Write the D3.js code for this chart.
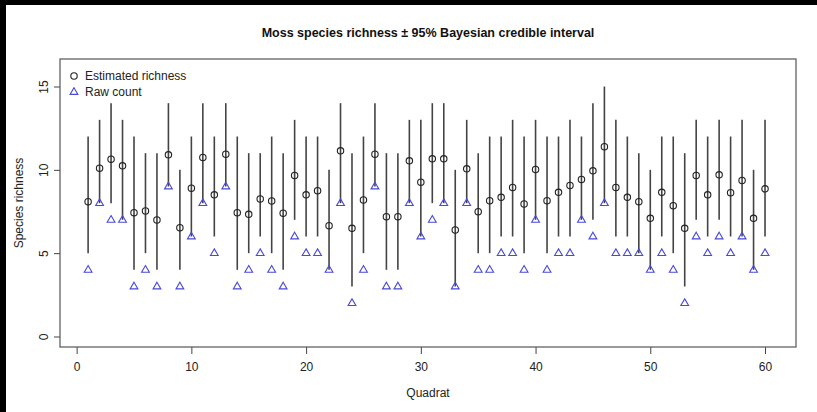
<!DOCTYPE html>
<html><head><meta charset="utf-8">
<script src="https://cdn.jsdelivr.net/npm/d3@7"></script>
<style>html,body{margin:0;padding:0;background:#fff;}svg{display:block;}</style>
</head><body>
<script>
// ---- data ----
const quadrats = d3.range(1, 61);
const estimated = [8.09,10.1,10.64,10.24,7.43,7.53,6.99,10.9,6.53,8.9,
  10.74,8.5,10.94,7.43,7.33,8.25,8.13,7.4,9.66,8.5,
  8.75,6.65,11.14,6.49,8.19,10.94,7.19,7.19,10.54,9.26,
  10.66,10.66,6.39,10.06,7.49,8.15,8.35,8.94,7.95,10.02,
  8.15,8.65,9.06,9.42,9.94,11.39,8.94,8.35,8.09,7.09,
  8.65,7.85,6.49,9.66,8.5,9.7,8.63,9.36,7.09,8.86];
const lower = [5,8,8,7,4,5,4,9,4,6, 8,6,9,4,5,6,5,4,7,6,
  6,4,8,3,5,9,4,4,8,6, 8,8,3,8,5,5,6,6,5,7,
  5,6,6,7,7,8,6,6,5,4, 6,5,3,7,6,7,6,6,4,6];
const upper = [12,13,14,13,12,11,11,14,10,12, 14,12,14,12,11,11,12,11,13,12,
  12,10,14,11,12,14,11,11,13,13, 14,14,10,13,11,12,12,13,12,13,
  12,12,13,12,14,15,13,12,11,10, 12,12,11,13,12,13,12,13,10,13];
const rawCount = [4,8,7,7,3,4,3,9,3,6, 8,5,9,3,4,5,4,3,6,5,
  5,4,8,2,4,9,3,3,8,6, 7,8,3,8,4,4,5,5,4,7,
  4,5,5,7,6,8,5,5,5,4, 5,4,2,6,5,6,5,6,4,5];
const xTicks = [0,10,20,30,40,50,60];
const yTicks = [0,5,10,15];
const title = "Moss species richness \u00b1 95% Bayesian credible interval";
const legendLabels = ["Estimated richness", "Raw count"];

// ---- layout ----
const W = 817, H = 412;
const box = {l: 60, r: 796, t: 59, b: 347};
const svg = d3.select("body").append("svg").attr("width", W).attr("height", H)
  .style("font-family", "'Liberation Sans', Arial, Helvetica, sans-serif");

svg.append("rect").attr("width", W).attr("height", H).attr("fill", "#000");
svg.append("rect").attr("x", 6).attr("y", 5).attr("width", W - 6).attr("height", H - 5).attr("fill", "#fff");

const x = d3.scaleLinear().domain([-1.45, 62.7]).range([box.l, box.r]);
const y = d3.scaleLinear().domain([-0.63, 16.65]).range([box.b, box.t]);

// axes
const xAxis = svg.append("g").attr("transform", `translate(0,${box.b})`)
  .call(d3.axisBottom(x).tickValues(xTicks).tickSize(7).tickPadding(8).tickFormat(d3.format("d")));
const yAxis = svg.append("g").attr("transform", `translate(${box.l},0)`)
  .call(d3.axisLeft(y).tickValues(yTicks).tickSize(6).tickPadding(0).tickFormat(d3.format("d")));
[xAxis, yAxis].forEach(g => {
  g.select(".domain").remove();
  g.selectAll(".tick line").attr("stroke", "#444");
  g.selectAll("text").attr("fill", "#222").style("font-size", "12px")
    .style("font-family", "'Liberation Sans', Arial, sans-serif");
});
yAxis.selectAll(".tick text").attr("x", null).attr("dy", null)
  .attr("text-anchor", "middle")
  .attr("transform", "translate(-16,0) rotate(-90)")
  .attr("dy", "0.35em");

// box
svg.append("rect").attr("x", box.l).attr("y", box.t)
  .attr("width", box.r - box.l).attr("height", box.b - box.t)
  .attr("fill", "none").attr("stroke", "#555").attr("stroke-width", 1.2);

// whiskers
svg.append("g").selectAll("line").data(quadrats).join("line")
  .attr("x1", (d) => x(d)).attr("x2", (d) => x(d))
  .attr("y1", (d, i) => y(lower[i])).attr("y2", (d, i) => y(upper[i]))
  .attr("stroke", "#444").attr("stroke-width", 1.6);

// circles
svg.append("g").selectAll("circle").data(quadrats).join("circle")
  .attr("cx", (d) => x(d)).attr("cy", (d, i) => y(estimated[i]))
  .attr("r", 3.2).attr("fill", "none").attr("stroke", "#222").attr("stroke-width", 1.1);

// triangles
const tri = "M0,-4.3L3.9,2.4L-3.9,2.4Z";
svg.append("g").selectAll("path").data(quadrats).join("path")
  .attr("d", tri)
  .attr("transform", (d, i) => `translate(${x(d)},${y(rawCount[i])})`)
  .attr("fill", "none").attr("stroke", "#4a4ad6").attr("stroke-width", 1.1);

// legend
svg.append("circle").attr("cx", 74).attr("cy", 76).attr("r", 3.2)
  .attr("fill", "none").attr("stroke", "#222").attr("stroke-width", 1.1);
svg.append("path").attr("d", tri).attr("transform", "translate(74,92)")
  .attr("fill", "none").attr("stroke", "#4a4ad6").attr("stroke-width", 1.1);
svg.selectAll(".leg").data(legendLabels).join("text").attr("class", "leg")
  .attr("x", 85).attr("y", (d, i) => 76 + i * 16).attr("dy", "0.35em")
  .style("font-size", "12px").attr("fill", "#222").text(d => d);

// title and labels
svg.append("text").attr("x", 428).attr("y", 33).attr("dy", "0.35em")
  .attr("text-anchor", "middle").style("font-size", "12.5px").style("font-weight", "bold")
  .attr("fill", "#111").text(title);
svg.append("text").attr("x", 428).attr("y", 393).attr("dy", "0.35em")
  .attr("text-anchor", "middle").style("font-size", "12px").attr("fill", "#222").text("Quadrat");
svg.append("text").attr("transform", "translate(19,203) rotate(-90)").attr("dy", "0.35em")
  .attr("text-anchor", "middle").style("font-size", "12px").attr("fill", "#222").text("Species richness");
</script>
</body></html>
